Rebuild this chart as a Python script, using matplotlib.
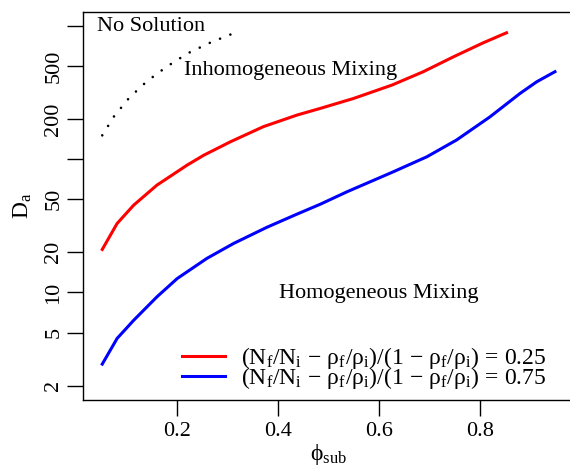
import numpy as np
import matplotlib
matplotlib.use("Agg")
import matplotlib.pyplot as plt

plt.rcParams['font.family'] = ['Liberation Serif', 'DejaVu Serif']
plt.rcParams['mathtext.fontset'] = 'custom'
plt.rcParams['mathtext.rm'] = 'Liberation Serif'
plt.rcParams['mathtext.it'] = 'Liberation Serif:italic'
plt.rcParams['mathtext.bf'] = 'Liberation Serif:bold'

# D_a boundary, (Nf/Ni - rf/ri)/(1 - rf/ri) = 0.25
phi_red = [0.0515, 0.081, 0.114, 0.160, 0.220, 0.253, 0.306, 0.371, 0.438, 0.484,
           0.550, 0.626, 0.688, 0.748, 0.807, 0.853]
da_red = [21.0, 32.9, 45.2, 63.8, 90.2, 107, 135, 175, 214, 240,
          285, 359, 452, 585, 745, 885]

# D_a boundary, ratio = 0.75
phi_blue = [0.0515, 0.081, 0.114, 0.160, 0.200, 0.259, 0.312, 0.378, 0.438, 0.484,
            0.537, 0.626, 0.695, 0.754, 0.820, 0.880, 0.913, 0.949]
da_blue = [2.90, 4.52, 6.19, 9.27, 12.7, 18.0, 23.3, 30.8, 38.7, 45.9,
           56.9, 79.5, 104, 139, 207, 311, 380, 452]

# no-solution limit
phi_dot = [0.0515, 0.0752, 0.105, 0.140, 0.179, 0.221, 0.267, 0.315]
da_dot = [150.6, 210, 288, 383, 492, 621, 751, 887]

yticks = [2, 5, 10, 20, 50, 100, 200, 500, 1000]
ylabels = ['2', '5', '10', '20', '50', '', '200', '500', '']
xticks = [0.2, 0.4, 0.6, 0.8]

fs = 16
leg = r'$\mathrm{(N_f/N_i\,-\,\rho_f/\rho_i)/(1\,-\,\rho_f/\rho_i)\,=\,%s}$'

fig = plt.figure(figsize=(5.7, 4.66), dpi=100)
ax = fig.add_axes([0.1462, 0.1416, 0.8601, 0.8333])

ax.plot(phi_red, da_red, color='red', lw=2.2, label=leg % '0.25')
ax.plot(phi_blue, da_blue, color='blue', lw=2.2, label=leg % '0.75')
ax.plot(phi_dot, da_dot, color='black', lw=1.9, linestyle=(0, (0.01, 4.2)),
        dash_capstyle='round')

ax.set_yscale('log')
ax.set_xlim(0.014, 0.986)
ax.set_ylim(1.56, 1274)
ax.set_yticks(yticks)
ax.set_yticklabels(ylabels, rotation=90, va='center')
ax.yaxis.set_minor_locator(matplotlib.ticker.NullLocator())
ax.set_xticks(xticks)
ax.set_xticklabels([str(t) for t in xticks])
ax.tick_params(axis='both', labelsize=fs, length=11.5, width=1, pad=3, direction='out')
ax.tick_params(axis='x', pad=4)
for s in ax.spines.values():
    s.set_linewidth(1)

ax.set_ylabel(r'$\mathrm{D_a}$', fontsize=fs + 1)
ax.yaxis.set_label_coords(-0.10, 0.5)
ax.set_xlabel(r'$\mathrm{\phi_{sub}}$', fontsize=fs + 1)
ax.xaxis.set_label_coords(0.5, -0.108)

ax.text(0.0416, 995, 'No Solution', fontsize=fs, ha='left', va='center')
ax.text(0.425, 459, 'Inhomogeneous Mixing', fontsize=fs, ha='center', va='center')
ax.text(0.6, 9.9, 'Homogeneous Mixing', fontsize=fs, ha='center', va='center')

ax.legend(loc='upper left', bbox_to_anchor=(0.2007, 0.142), frameon=False,
          fontsize=17, borderpad=0, borderaxespad=0, handlelength=1.85,
          handletextpad=0.65, labelspacing=-0.24)

fig.savefig('out.png', dpi=100)
